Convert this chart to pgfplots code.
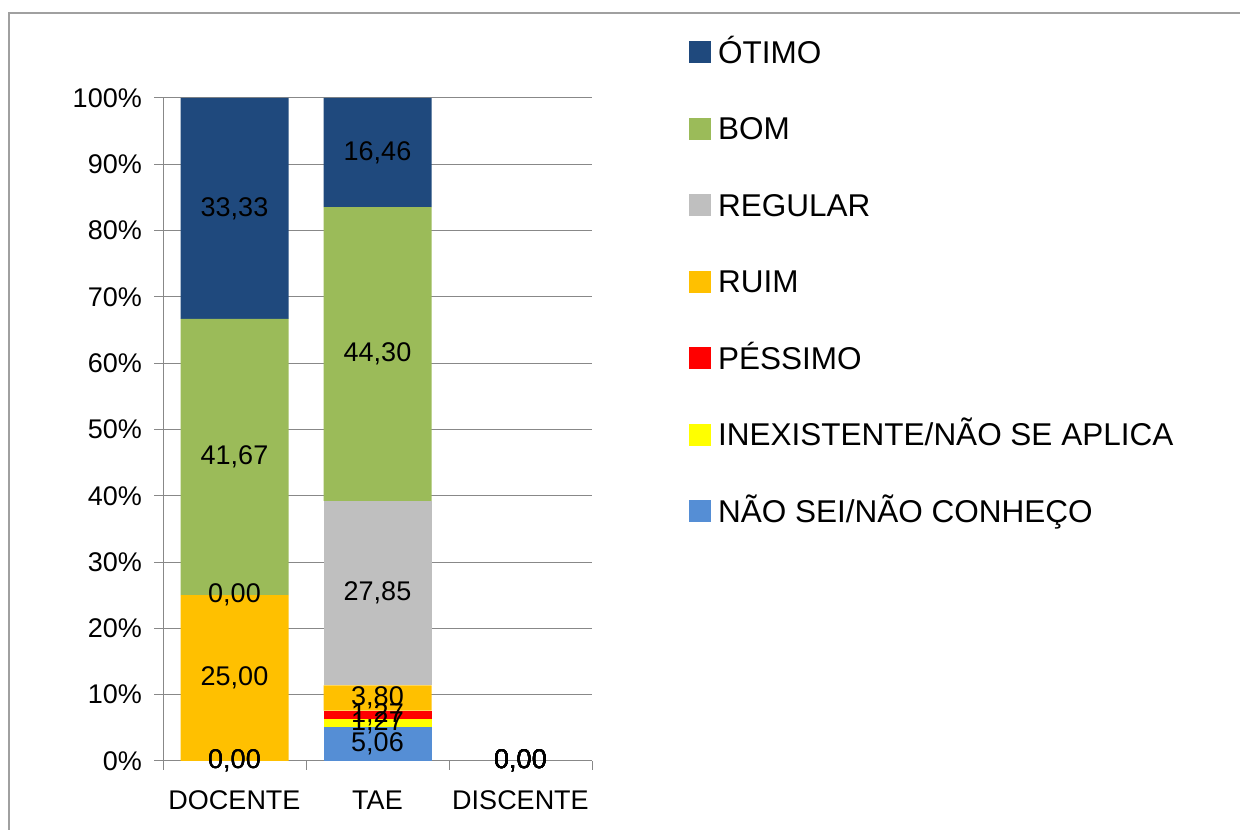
\documentclass[border=0pt]{standalone}
\usepackage{fontspec}
\setmainfont{Liberation Sans}
\usepackage{pgfplots}
\pgfplotsset{compat=1.18}

\definecolor{otimo}{HTML}{1F497D}
\definecolor{bom}{HTML}{9BBB59}
\definecolor{regular}{HTML}{BFBFBF}
\definecolor{ruim}{HTML}{FFC000}
\definecolor{pessimo}{HTML}{FF0000}
\definecolor{inexist}{HTML}{FFFF00}
\definecolor{naosei}{HTML}{558ED5}
\definecolor{linegray}{HTML}{888888}
\definecolor{framegray}{HTML}{A0A0A0}

\newcommand\fsz{\fontsize{27bp}{32bp}\selectfont}
\newcommand\lsz{\fontsize{31.5bp}{36bp}\selectfont}

\pgfplotsset{
  common/.style={
    at={(163bp,69bp)}, anchor=south west,
    scale only axis, width=429bp, height=663bp,
    xmin=-0.5, xmax=2.5, ymin=0, ymax=100,
    enlargelimits=false, clip=false,
  },
}

\begin{document}
\begin{tikzpicture}[font=\fsz]
\useasboundingbox (0bp,0bp) rectangle (1240bp,830bp);
\draw[framegray, line width=2bp] (9bp,0bp) -- (9bp,817bp) -- (1240bp,817bp);
\begin{axis}[
  common,
  ybar stacked, bar width=108bp,
  axis x line*=bottom, axis y line*=left,
  axis line style={linegray, line width=1bp},
  tick align=outside,
  major tick length=9bp, minor tick length=9bp,
  tick style={linegray, line width=1bp},
  xtick={0,1,2}, xticklabels={DOCENTE,TAE,DISCENTE},
  minor xtick={-0.5,0.5,1.5,2.5},
  major x tick style={draw=none},
  ytick={0,10,...,100},
  yticklabel={\pgfmathprintnumber[assume math mode=true]{\tick}\%},
  yticklabel style={inner sep=0pt, xshift=-12bp},
  xticklabel style={yshift=-17bp},
  ymajorgrids, major grid style={linegray, line width=1bp},
  tick label style={font=\fsz, text=black},
  legend style={at={(axis description cs:1.2261,1.089)}, anchor=north west,
    draw=none, fill=none, inner sep=0pt, row sep=45.5bp, column sep=7bp,
    font=\lsz, nodes={inner sep=0pt, text height=24bp, text depth=7bp}},
  legend cell align=left, reverse legend,
  legend image code/.code={\fill[#1,draw=none] (0bp,-8.5bp) rectangle (22bp,13.5bp);},
]
\addplot[fill=naosei, draw=none] coordinates {(0,0) (1,5.06) (2,0)};
\addlegendentry{NÃO SEI/NÃO CONHEÇO}
\addplot[fill=inexist, draw=none] coordinates {(0,0) (1,1.27) (2,0)};
\addlegendentry{INEXISTENTE/NÃO SE APLICA}
\addplot[fill=pessimo, draw=none] coordinates {(0,0) (1,1.27) (2,0)};
\addlegendentry{PÉSSIMO}
\addplot[fill=ruim, draw=none] coordinates {(0,25) (1,3.80) (2,0)};
\addlegendentry{RUIM}
\addplot[fill=regular, draw=none] coordinates {(0,0) (1,27.85) (2,0)};
\addlegendentry{REGULAR}
\addplot[fill=bom, draw=none] coordinates {(0,41.67) (1,44.30) (2,0)};
\addlegendentry{BOM}
\addplot[fill=otimo, draw=none] coordinates {(0,33.33) (1,16.46) (2,0)};
\addlegendentry{ÓTIMO}
\end{axis}

% data labels, centred in each segment
\begin{axis}[
  common, hide axis,
  nodes near coords, point meta=explicit symbolic,
  every node near coord/.append style={anchor=center, inner sep=0pt, font=\fsz, text=black},
]
\addplot[draw=none] table[x=x, y=y, meta=lab] {
x y lab
0 0 0,00
0 0 0,00
0 0 0,00
0 12.5 25,00
0 25 0,00
0 45.835 41,67
0 83.335 33,33
1 2.53 5,06
1 5.695 1,27
1 6.965 1,27
1 9.505 3,80
1 25.33 27,85
1 61.405 44,30
1 91.785 16,46
2 0 0,00
2 0 0,00
2 0 0,00
2 0 0,00
2 0 0,00
2 0 0,00
2 0 0,00
};
\end{axis}
\end{tikzpicture}
\end{document}
